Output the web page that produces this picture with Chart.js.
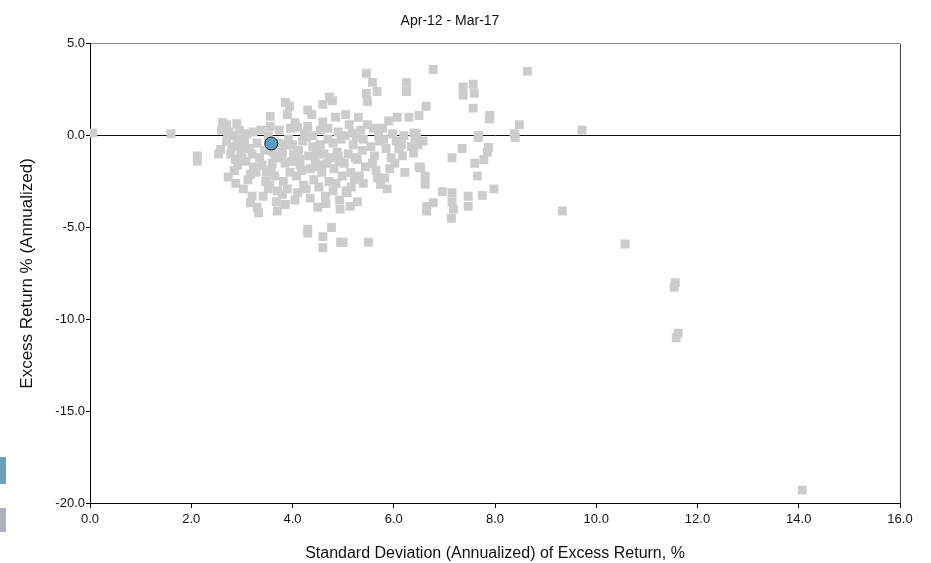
<!DOCTYPE html>
<html>
<head>
<meta charset="utf-8">
<script src="https://cdn.jsdelivr.net/npm/chart.js@4"></script>
<style>
  body { margin: 0; background: #fff; }
  #wrap { width: 931px; height: 563px; position: relative; }
</style>
</head>
<body>
<div id="wrap"><canvas id="riskChart"></canvas></div>
<script>
// fund (highlighted) point
var fundStdDev = [3.58];
var fundReturn = [-0.43];

// peer universe: std dev of excess return (x) and excess return (y)
var peerStdDev = [
  0.05, 1.6, 2.12, 2.12, 2.54,
  2.62, 2.65, 2.6, 2.7, 2.75, 2.58, 2.73, 2.7, 2.8, 2.78, 2.72,
  2.9, 2.85, 2.95, 2.87, 2.9, 2.98, 2.92, 2.85, 2.95, 2.88, 3.0,
  3.03, 3.2, 3.17, 3.17, 3.23, 3.05, 3.1, 3.15, 3.2, 3.08, 3.22, 3.12, 3.0,
  3.33, 3.3, 3.47, 3.52, 3.3, 3.35, 3.4, 3.45, 3.28, 3.42, 3.38, 3.48,
  3.56, 3.56, 3.52, 3.6, 3.62, 3.7, 3.68, 3.65, 3.58, 3.72, 3.66, 3.55, 3.74, 3.7,
  3.86, 3.94, 3.9, 3.82, 3.86, 3.8, 3.85, 3.92, 3.78, 3.95, 3.88, 3.9, 3.98, 3.8, 3.96,
  4.05, 4.1, 4.1, 4.02, 4.15, 4.08, 4.2, 4.12, 4.22, 4.05, 4.18, 4.24, 4.0, 4.14,
  4.3, 4.38, 4.3, 4.35, 4.3, 4.3, 4.28, 4.4, 4.45, 4.35, 4.42, 4.48, 4.27, 4.5, 4.4, 4.46, 4.32,
  4.6, 4.73, 4.6, 4.55, 4.65, 4.6, 4.6, 4.7, 4.55, 4.62, 4.68, 4.58, 4.72, 4.52, 4.66, 4.74, 4.56, 4.7,
  4.79, 4.85, 4.9, 4.77, 4.93, 4.94, 4.95, 4.8, 4.88, 4.92, 4.82, 4.98, 4.86, 4.96, 4.8, 4.9,
  5.06, 5.14, 5.08, 5.0, 5.05, 5.12, 5.18, 5.2, 5.1, 5.02, 5.15, 5.22, 5.24, 5.04, 5.16,
  5.28, 5.46, 5.46, 5.48, 5.3, 5.35, 5.4, 5.38, 5.28, 5.44, 5.32, 5.5, 5.4, 5.48, 5.26,
  5.58, 5.67, 5.6, 5.7, 5.55, 5.62, 5.74, 5.65, 5.72, 5.58, 5.68,
  5.9, 5.87, 5.8, 5.85, 5.95, 5.78, 5.92, 5.82, 5.98,
  6.07, 6.25, 6.25, 6.17, 6.05, 6.1, 6.2, 6.02, 6.15, 6.22,
  6.3, 6.5, 6.64, 6.39, 6.53, 6.62, 6.62, 6.5, 6.4, 6.42, 6.35, 6.48, 6.45, 6.58, 6.65, 6.65, 6.78, 6.78,
  6.96, 7.15, 7.15, 7.18, 7.14, 7.15, 7.35, 7.37, 7.37, 7.57, 7.59, 7.57, 7.47, 7.47,
  7.6, 7.65, 7.67, 7.67, 7.75, 7.78, 7.85, 7.87, 7.89, 7.9, 7.98,
  8.38, 8.4, 8.48, 8.64, 9.72, 9.33, 10.57, 11.56, 11.54, 11.62, 11.58, 14.07
];
var peerReturn = [
  0.15, 0.1, -1.1, -1.4, -1.0,
  0.7, 0.5, 0.3, 0.6, 0.2, -0.75, -2.25, -0.3, -0.6, -1.0, 0.0,
  0.65, 0.0, -0.2, -1.3, -0.5, -0.9, -1.6, -1.9, 0.3, -2.6, -1.2,
  -2.9, -3.3, -3.65, -2.1, -1.7, -0.3, 0.1, -0.7, -1.0, -1.4, 0.2, -2.4, -0.6,
  -4.2, -3.9, -2.5, -2.9, -0.4, -1.2, -1.6, -0.8, -2.0, -3.3, 0.3, -2.0,
  1.05, 0.5, 0.0, -1.5, -0.9, -4.1, -3.6, -2.2, -1.9, -0.4, -1.2, -2.7, 0.3, -3.0,
  1.8, 1.6, 1.15, -2.5, -3.75, -0.9, -1.5, -0.2, -1.2, -2.0, -0.5, -2.9, -1.4, -3.2, 0.4,
  0.7, 0.45, -3.1, -1.0, -1.6, -2.2, -0.3, -0.8, -2.7, -3.5, -1.9, 0.1, -0.5, -1.3,
  1.4, 1.15, 0.5, -3.4, -5.1, -5.3, -0.1, -0.6, -1.3, -1.8, -2.4, -0.9, -2.9, -3.9, 0.0, -1.7, -1.1,
  1.7, 2.1, 0.75, 0.3, -3.3, -5.5, -6.1, -0.2, -0.5, -1.0, -1.5, -2.0, -2.5, -2.8, -3.7, -1.2, -1.6, 0.4,
  1.9, 1.0, 0.2, -5.0, -3.5, -4.0, -5.8, -0.4, -0.9, -1.4, -1.8, -2.2, -2.6, -0.2, -3.0, -1.1,
  -3.0, -3.85, -3.1, -5.8, 1.15, 0.6, 0.15, -0.5, -1.0, -1.5, -2.0, -2.4, -1.2, 0.0, -2.8,
  -3.6, 3.4, 2.3, 1.85, 1.0, 0.3, -0.2, -0.8, -1.3, -1.7, -2.2, -5.8, -2.6, 0.6, -0.1,
  2.9, 2.4, 0.4, 0.0, -0.6, -1.1, -2.65, -1.9, -0.3, -1.5, -2.3,
  0.8, -2.9, -0.2, -0.7, -1.2, 0.4, -1.8, -2.3, 0.1,
  1.0, 2.9, 2.4, -1.1, -0.3, -0.7, 0.0, -1.5, -0.5, -2.0,
  1.0, 1.1, 1.6, -0.95, -1.75, -2.2, -2.65, -1.7, 0.15, -0.2, -0.6, -0.5, 0.1, -0.3, -3.85, -4.1, -3.65, 3.6,
  -3.05, -3.1, -3.6, -4.0, -4.5, -1.2, -0.7, 2.65, 2.2, 2.8, 2.3, 1.5, -3.3, -3.85,
  -1.5, -2.2, 0.0, -0.1, -3.25, -1.3, -0.9, -0.65, 0.9, 1.1, -2.9,
  0.1, -0.1, 0.6, 3.5, 0.3, -4.1, -5.9, -8.0, -8.25, -10.75, -11.0, -19.3
];

var xTicks = [0, 2, 4, 6, 8, 10, 12, 14, 16];
var yTicks = [-20, -15, -10, -5, 0, 5];

var peerPoints = peerStdDev.map(function (x, i) { return { x: x, y: peerReturn[i] }; });
var fundPoints = fundStdDev.map(function (x, i) { return { x: x, y: fundReturn[i] }; });

var FONT = 'Liberation Sans, Arial, sans-serif';

// little legend swatches that are cut off at the left edge
var sideSwatches = {
  id: 'sideSwatches',
  afterDraw: function (chart) {
    var c = chart.ctx;
    c.save();
    c.fillStyle = '#6aa0ba';
    c.fillRect(0, 457, 6, 27);
    c.fillStyle = '#adb1bb';
    c.fillRect(0, 508, 6, 24);
    c.restore();
  }
};

var ctx = document.getElementById('riskChart').getContext('2d');
var riskChart = new Chart(ctx, {
  type: 'scatter',
  data: {
    datasets: [{
      label: 'Fund',
      data: fundPoints,
      pointStyle: 'circle',
      pointRadius: 6.5,
      pointHoverRadius: 6.5,
      backgroundColor: '#5f9cbf',
      borderColor: '#1a1a1a',
      borderWidth: 1,
      order: 0
    }, {
      label: 'Peers',
      data: peerPoints,
      pointStyle: 'rect',
      pointRadius: 6.3,
      pointHoverRadius: 6.3,
      backgroundColor: '#cccccc',
      borderWidth: 0,
      order: 1
    }]
  },
  options: {
    responsive: true,
    maintainAspectRatio: false,
    animation: false,
    layout: { padding: { top: 7, right: 31, left: 0, bottom: 0 } },
    plugins: {
      legend: { display: false },
      tooltip: { enabled: false },
      title: {
        display: true,
        text: 'Apr-12 - Mar-17',
        color: '#111',
        font: { family: FONT, size: 14, weight: 'normal' },
        padding: { top: 6, bottom: 14 }
      }
    },
    scales: {
      x: {
        type: 'linear',
        min: 0,
        max: 16,
        afterBuildTicks: function (s) { s.ticks = xTicks.map(function (v) { return { value: v }; }); },
        ticks: {
          color: '#111',
          font: { family: FONT, size: 13 },
          padding: 4,
          maxRotation: 0,
          callback: function (v) { return v.toFixed(1); }
        },
        grid: {
          drawOnChartArea: true,
          color: function (c) { return c.tick && c.tick.value === 16 ? '#444' : 'rgba(0,0,0,0)'; },
          tickColor: '#000',
          tickLength: 5
        },
        border: { display: true, color: '#000', width: 1 },
        title: {
          display: true,
          text: 'Standard Deviation (Annualized) of Excess Return, %',
          color: '#111',
          font: { family: FONT, size: 16 },
          padding: { top: 20, bottom: 0 }
        },
        afterFit: function (s) { s.height = 60; }
      },
      y: {
        type: 'linear',
        min: -20,
        max: 5,
        afterBuildTicks: function (s) { s.ticks = yTicks.map(function (v) { return { value: v }; }); },
        ticks: {
          color: '#111',
          font: { family: FONT, size: 13 },
          padding: 1,
          callback: function (v) { return v.toFixed(1); }
        },
        grid: {
          color: function (c) {
            if (!c.tick) return 'rgba(0,0,0,0)';
            if (c.tick.value === 0) return '#111';
            if (c.tick.value === 5) return '#888';
            return 'rgba(0,0,0,0)';
          },
          tickColor: '#000',
          tickLength: 4
        },
        border: { display: true, color: '#000', width: 1 },
        title: {
          display: true,
          text: 'Excess Return % (Annualized)',
          color: '#111',
          font: { family: FONT, size: 17 },
          padding: { top: 17, bottom: 0 }
        },
        afterFit: function (s) { s.width = 90; }
      }
    }
  },
  plugins: [sideSwatches]
});
</script>
</body>
</html>
